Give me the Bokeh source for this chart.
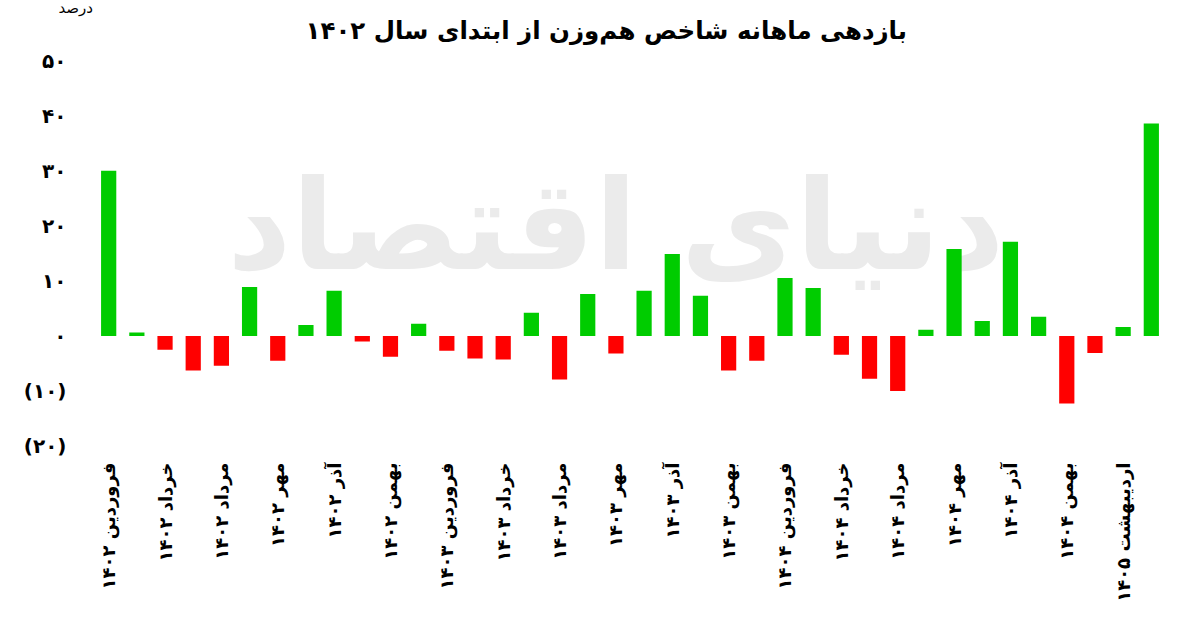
import math
from bokeh.plotting import figure
from bokeh.models import ColumnDataSource, FixedTicker, Label, Range1d, Title
from bokeh.embed import file_html
from bokeh.resources import INLINE

# ---- data ----
values = [30.0, 0.6, -2.5, -6.3, -5.4, 8.9, -4.5, 2.0, 8.2, -1.0, -3.8, 2.2,
          -2.7, -4.1, -4.3, 4.2, -7.9, 7.6, -3.2, 8.2, 14.9, 7.3, -6.3, -4.5,
          10.5, 8.7, -3.4, -7.8, -10.0, 1.1, 15.8, 2.7, 17.1, 3.5, -12.3, -3.1,
          1.6, 38.6]
tick_positions = [0, 2, 4, 6, 8, 10, 12, 14, 16, 18, 20, 22, 24, 26, 28, 30, 32, 34, 36]
tick_labels = ["فروردین ۱۴۰۲", "خرداد ۱۴۰۲", "مرداد ۱۴۰۲", "مهر ۱۴۰۲", "آذر ۱۴۰۲",
               "بهمن ۱۴۰۲", "فروردین ۱۴۰۳", "خرداد ۱۴۰۳", "مرداد ۱۴۰۳", "مهر ۱۴۰۳",
               "آذر ۱۴۰۳", "بهمن ۱۴۰۳", "فروردین ۱۴۰۴", "خرداد ۱۴۰۴", "مرداد ۱۴۰۴",
               "مهر ۱۴۰۴", "آذر ۱۴۰۴", "بهمن ۱۴۰۴", "اردیبهشت ۱۴۰۵"]
y_ticks = [50, 40, 30, 20, 10, 0, -10, -20]
y_tick_labels = ["۵۰", "۴۰", "۳۰", "۲۰", "۱۰", "۰", "(۱۰)", "(۲۰)"]
title_text = "بازدهی ماهانه شاخص هم‌وزن از ابتدای سال ۱۴۰۲"
unit_text = "درصد"
watermark_text = "دنیای اقتصاد"

GREEN = "#00CC00"
RED = "#FF0000"
FONT = "DejaVu Sans"

src = ColumnDataSource(dict(
    x=list(range(len(values))),
    v=values,
    c=[GREEN if v >= 0 else RED for v in values],
))

p = figure(width=1184, height=606, output_backend="svg", toolbar_location=None,
           title=None,
           x_range=Range1d(-1, 38), y_range=Range1d(-21, 52.4),
           min_border_left=80, min_border_right=5, min_border_top=47,
           min_border_bottom=155)
p.outline_line_color = None
p.grid.visible = False
p.background_fill_color = "white"
p.border_fill_color = "white"

# watermark
wm = Label(x=18.0, y=20.0, text=watermark_text, text_align="center", text_baseline="middle",
           text_font=FONT, text_font_style="bold", text_font_size="125px",
           text_color="#ebebeb", level="underlay")
p.add_layout(wm)

p.vbar(x="x", top="v", bottom=0, width=0.54, fill_color="c", line_color=None, source=src)

# main title (closest to the frame)
p.add_layout(Title(text=title_text, align="left", offset=225, text_font=FONT,
                   text_font_style="bold", text_font_size="24.5px",
                   text_color="black", standoff=5), "above")
# unit caption (outermost, top-left)
p.add_layout(Title(text=unit_text, align="left", offset=-22, text_font=FONT,
                   text_font_style="normal", text_font_size="15px",
                   text_color="black", standoff=-11), "above")

# axes
xa = p.xaxis[0]
xa.ticker = FixedTicker(ticks=tick_positions)
xa.major_label_overrides = {t: l for t, l in zip(tick_positions, tick_labels)}
xa.major_label_orientation = math.pi / 2
xa.major_label_text_font = FONT
xa.major_label_text_font_style = "bold"
xa.major_label_text_font_size = "18px"
xa.major_label_text_color = "black"
xa.axis_line_color = None
xa.major_tick_line_color = None
xa.minor_tick_line_color = None
xa.major_tick_out = 0
xa.major_label_standoff = 11

ya = p.yaxis[0]
ya.ticker = FixedTicker(ticks=y_ticks)
ya.major_label_overrides = {t: l for t, l in zip(y_ticks, y_tick_labels)}
ya.major_label_text_font = FONT
ya.major_label_text_font_style = "bold"
ya.major_label_text_font_size = "20px"
ya.major_label_text_color = "black"
ya.axis_line_color = None
ya.major_tick_line_color = None
ya.minor_tick_line_color = None
ya.major_tick_out = 0
ya.major_label_standoff = 14

open("out.html", "w").write(file_html(p, INLINE))
